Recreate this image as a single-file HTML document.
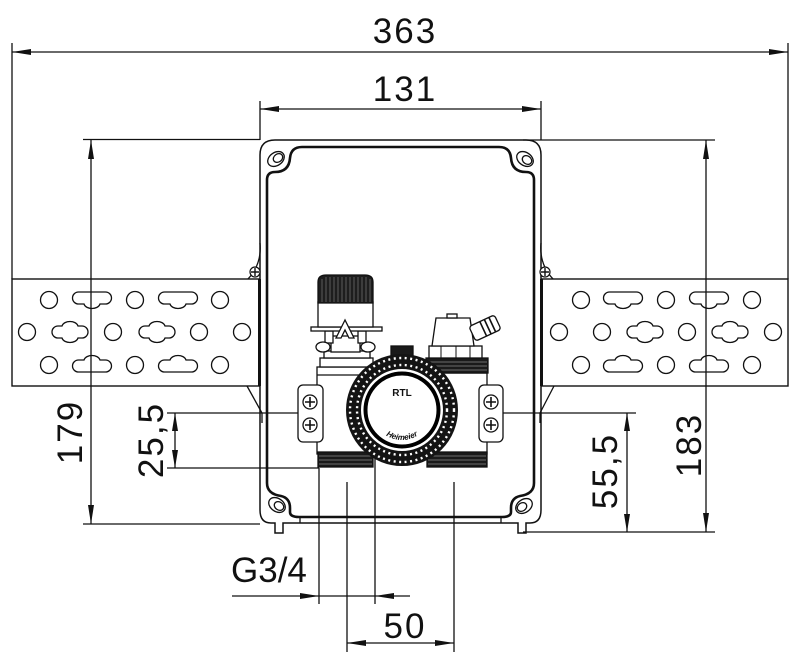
<!DOCTYPE html>
<html><head><meta charset="utf-8"><style>
html,body{margin:0;padding:0;background:#fff;}
svg{display:block;}
text{font-family:"Liberation Sans","DejaVu Sans",sans-serif;fill:#111;}
</style></head><body>
<svg width="811" height="661" viewBox="0 0 811 661" xmlns="http://www.w3.org/2000/svg">
<rect width="811" height="661" fill="#fff"/>

<!-- Brackets -->
<g stroke="#111" stroke-width="1.4" fill="#fff">
  <rect x="12" y="279" width="248" height="107"/>
  <rect x="541" y="279" width="247" height="107"/>
</g>
<g stroke="#111" stroke-width="1.3" fill="none">
  <circle cx="49" cy="300" r="8.5"/><circle cx="135" cy="300" r="8.5"/><circle cx="220" cy="300" r="8.5"/>
  <circle cx="27" cy="332" r="8.5"/><circle cx="113" cy="332" r="8.5"/><circle cx="199" cy="332" r="8.5"/><circle cx="242" cy="332" r="8.5"/>
  <circle cx="49" cy="365" r="8.5"/><circle cx="135" cy="365" r="8.5"/><circle cx="220" cy="365" r="8.5"/>
  <circle cx="581" cy="300" r="8.5"/><circle cx="666" cy="300" r="8.5"/><circle cx="752" cy="300" r="8.5"/>
  <circle cx="559" cy="332" r="8.5"/><circle cx="602" cy="332" r="8.5"/><circle cx="687" cy="332" r="8.5"/><circle cx="773" cy="332" r="8.5"/>
  <circle cx="581" cy="365" r="8.5"/><circle cx="666" cy="365" r="8.5"/><circle cx="752" cy="365" r="8.5"/>
  <path d="M78.5,292 H105.5 A6,6 0 0 1 105.5,304 H100 C98,310 86,310 84,304 H78.5 A6,6 0 0 1 78.5,292 Z"/>
  <path d="M164.5,292 H191.5 A6,6 0 0 1 191.5,304 H186 C184,310 172,310 170,304 H164.5 A6,6 0 0 1 164.5,292 Z"/>
  <path d="M609.5,292 H636.5 A6,6 0 0 1 636.5,304 H631 C629,310 617,310 615,304 H609.5 A6,6 0 0 1 609.5,292 Z"/>
  <path d="M695.5,292 H722.5 A6,6 0 0 1 722.5,304 H717 C715,310 703,310 701,304 H695.5 A6,6 0 0 1 695.5,292 Z"/>
  <path d="M78.5,360 H84 C86,354 98,354 100,360 H105.5 A6,6 0 0 1 105.5,372 H78.5 A6,6 0 0 1 78.5,360 Z"/>
  <path d="M164.5,360 H170 C172,354 184,354 186,360 H191.5 A6,6 0 0 1 191.5,372 H164.5 A6,6 0 0 1 164.5,360 Z"/>
  <path d="M609.5,360 H615 C617,354 629,354 631,360 H636.5 A6,6 0 0 1 636.5,372 H609.5 A6,6 0 0 1 609.5,360 Z"/>
  <path d="M695.5,360 H701 C703,354 715,354 717,360 H722.5 A6,6 0 0 1 722.5,372 H695.5 A6,6 0 0 1 695.5,360 Z"/>
  <path d="M58,326 H62 C64,320 76,320 78,326 H82 A6,6 0 0 1 82,338 H78 C76,344 64,344 62,338 H58 A6,6 0 0 1 58,326 Z"/>
  <path d="M145,326 H149 C151,320 163,320 165,326 H169 A6,6 0 0 1 169,338 H165 C163,344 151,344 149,338 H145 A6,6 0 0 1 145,326 Z"/>
  <path d="M633,326 H637 C639,320 651,320 653,326 H657 A6,6 0 0 1 657,338 H653 C651,344 639,344 637,338 H633 A6,6 0 0 1 633,326 Z"/>
  <path d="M718,326 H722 C724,320 736,320 738,326 H742 A6,6 0 0 1 742,338 H738 C736,344 724,344 722,338 H718 A6,6 0 0 1 718,326 Z"/>
</g>

<!-- Housing -->
<g stroke="#111" fill="none">
  <path d="M260,510 V155 Q260,140 275,140 H526 Q541,140 541,155 V510 Q541,523 530,523 H526 V533 H518 V523 H283 V533 H275 V523 H271 Q260,523 260,510 Z" fill="#fff" stroke-width="1.5"/>
  <path d="M300,517 H501 M300,517 V523 M501,517 V523" stroke-width="1.3"/>
  <path d="M267,180 Q267,172 275,172 Q289,172 290,158 Q291,147 302,147 H499 Q510,147 511,158 Q512,172 526,172 Q534,172 534,180 V483 Q534,494 520,496 Q511,498 511,508 V512 Q511,517 502,517 H299 Q290,517 290,512 V508 Q290,498 281,496 Q267,494 267,483 Z" stroke-width="2.6"/>
  <path d="M259.5,279 V386 M541.5,279 V386" stroke-width="3"/>
  <path d="M260,243 Q262,264 248,279" stroke-width="1.3"/>
  <path d="M541,243 Q539,264 553,279" stroke-width="1.3"/>
  <circle cx="255" cy="272" r="5" stroke-width="1.2" fill="#fff"/>
  <path d="M251,272 H259 M255,268 V276" stroke-width="1.4"/>
  <circle cx="545" cy="272" r="5" stroke-width="1.2" fill="#fff"/>
  <path d="M541,272 H549 M545,268 V276" stroke-width="1.4"/>
  <path d="M247,386 L262,413 V423" stroke-width="1.3"/>
  <path d="M554,386 L540,413 V423" stroke-width="1.3"/>
  <g stroke-width="1.3">
    <ellipse cx="276" cy="159" rx="9" ry="6.5" transform="rotate(-35 276 159)"/>
    <ellipse cx="278" cy="158" rx="5" ry="4" transform="rotate(-35 278 158)"/>
    <ellipse cx="525" cy="159" rx="9" ry="6.5" transform="rotate(35 525 159)"/>
    <ellipse cx="527" cy="160" rx="5" ry="4" transform="rotate(35 527 160)"/>
    <ellipse cx="277" cy="505" rx="9" ry="6.5" transform="rotate(35 277 505)"/>
    <ellipse cx="279" cy="506" rx="5" ry="4" transform="rotate(35 279 506)"/>
    <ellipse cx="524" cy="506" rx="9" ry="6.5" transform="rotate(-35 524 506)"/>
    <ellipse cx="522" cy="507" rx="5" ry="4" transform="rotate(-35 522 507)"/>
  </g>
</g>

<!-- Valve assembly -->
<g stroke="#111" stroke-width="1.3" fill="#fff">
  <rect x="317" y="367" width="58" height="87"/>
  <rect x="320" y="358" width="53" height="9"/>
  <line x1="317" y1="375" x2="375" y2="375"/>
  <rect x="324" y="351" width="46" height="7"/>
  <rect x="331" y="336" width="29" height="16"/>
  <rect x="325" y="331" width="8" height="12"/>
  <rect x="358" y="331" width="8" height="12"/>
  <ellipse cx="323" cy="347" rx="7" ry="5"/>
  <ellipse cx="368" cy="347" rx="7" ry="5"/>
  <rect x="311" y="327" width="71" height="4"/>
  <rect x="318" y="302" width="55" height="25"/>
  <path d="M345,320 L336,338 L341,338 L345,330 L349,338 L354,338 Z"/>
  <path d="M318,303 V282 Q318,275 326,275 H365 Q373,275 373,282 V303 Z" fill="#1e1e1e"/>
  <g stroke="#777" stroke-width="0.7">
    <path d="M322,279V302 M326,277V302 M330,277V302 M334,277V302 M338,277V302 M342,277V302 M346,277V302 M350,277V302 M354,277V302 M358,277V302 M362,277V302 M366,277V302 M370,279V302"/>
  </g>
  <rect x="318" y="452" width="55" height="15" fill="#1a1a1a"/>
  <g stroke="#888" stroke-width="0.7"><path d="M319,456H372 M319,460H372 M319,464H372"/></g>

  <rect x="427" y="373" width="60" height="81"/>
  <rect x="426" y="358" width="62" height="15" fill="#1a1a1a"/>
  <g stroke="#888" stroke-width="0.7"><path d="M427,362H487 M427,366H487 M427,370H487"/></g>
  <rect x="429" y="346" width="53" height="12"/>
  <path d="M441,346V358 M456,346V358 M470,346V358" stroke-width="1"/>
  <path d="M436,318 L470,318 L474,346 L432,346 Z"/>
  <rect x="447" y="314" width="10" height="4"/>
  <g transform="translate(485,328) rotate(-25)">
    <rect x="-14" y="-8" width="28" height="16" rx="3"/>
    <path d="M-2,-8V8 M3,-8V8 M8,-8V8" stroke-width="1.6"/>
  </g>
  <rect x="427" y="452" width="60" height="15" fill="#1a1a1a"/>
  <g stroke="#888" stroke-width="0.7"><path d="M428,456H486 M428,460H486 M428,464H486"/></g>

  <rect x="298" y="385" width="25" height="57" rx="5"/>
  <rect x="479" y="385" width="24" height="57" rx="5"/>
  <circle cx="310" cy="402" r="7"/><circle cx="310" cy="425" r="7"/>
  <circle cx="491" cy="402" r="7"/><circle cx="491" cy="425" r="7"/>
  <path d="M305,402H315 M310,397V407 M305,425H315 M310,420V430 M486,402H496 M491,397V407 M486,425H496 M491,420V430" stroke-width="1.6"/>

  <rect x="391" y="346" width="22" height="12" fill="#1a1a1a"/>
  <circle cx="402" cy="410" r="48.5" fill="#fff" stroke="#141414" stroke-width="15"/>
  <circle cx="402" cy="410" r="52" fill="none" stroke="#fff" stroke-width="2.4" stroke-dasharray="2 3.5"/>
  <circle cx="402" cy="410" r="45" fill="none" stroke="#fff" stroke-width="2.4" stroke-dasharray="2 3.5"/>
  <circle cx="402" cy="410" r="36.5" fill="#fff" stroke="#000" stroke-width="4"/>
</g>
<text x="402" y="396" text-anchor="middle" font-size="10" font-weight="bold">RTL</text>
<defs><path id="arc" d="M372,410 A30,30 0 0 0 432,410"/></defs>
<text font-size="8" font-weight="bold" font-style="italic"><textPath href="#arc" startOffset="50%" text-anchor="middle">Heimeier</textPath></text>

<!-- Dimension lines -->
<g stroke="#111" stroke-width="1.3" fill="none">
  <path d="M12,52 H788 M12,43 V279 M788,43 V279"/>
  <path d="M260,109 H541 M260,101 V140 M541,101 V140"/>
  <path d="M83,139.5 H260 M523,140 H715"/>
  <path d="M91,140 V524 M83,524 H260"/>
  <path d="M706,140 V532 M523,532 H715"/>
  <path d="M167,413 H298 M167,468 H319 M175,413 V468"/>
  <path d="M503,413 H636 M627,413 V532"/>
  <path d="M232,596 H410 M319,468 V604 M375,458 V604"/>
  <path d="M347,482 V652 M454,482 V652 M347,643 H454"/>
</g>
<g fill="#111">
  <polygon points="12,52 31,49 31,55"/><polygon points="788,52 769,49 769,55"/>
  <polygon points="260,109 279,106 279,112"/><polygon points="541,109 522,106 522,112"/>
  <polygon points="91,140 88,159 94,159"/><polygon points="91,524 88,505 94,505"/>
  <polygon points="706,140 703,159 709,159"/><polygon points="706,532 703,513 709,513"/>
  <polygon points="175,413 172,431 178,431"/><polygon points="175,468 172,450 178,450"/>
  <polygon points="627,413 624,431 630,431"/><polygon points="627,532 624,514 630,514"/>
  <polygon points="319,596 300,593 300,599"/><polygon points="375,596 394,593 394,599"/>
  <polygon points="347,643 366,640 366,646"/><polygon points="454,643 435,640 435,646"/>
</g>

<!-- Dimension texts -->
<g font-size="35" letter-spacing="2">
  <text x="405" y="43" text-anchor="middle">363</text>
  <text x="405" y="101" text-anchor="middle">131</text>
  <text transform="translate(82,432) rotate(-90)" text-anchor="middle">179</text>
  <text transform="translate(163,440) rotate(-90)" text-anchor="middle">25,5</text>
  <text transform="translate(617,471) rotate(-90)" text-anchor="middle">55,5</text>
  <text transform="translate(701,445) rotate(-90)" text-anchor="middle">183</text>
  <text x="231" y="582" letter-spacing="0">G3/4</text>
  <text x="405" y="638" text-anchor="middle">50</text>
</g>
</svg>
</body></html>
